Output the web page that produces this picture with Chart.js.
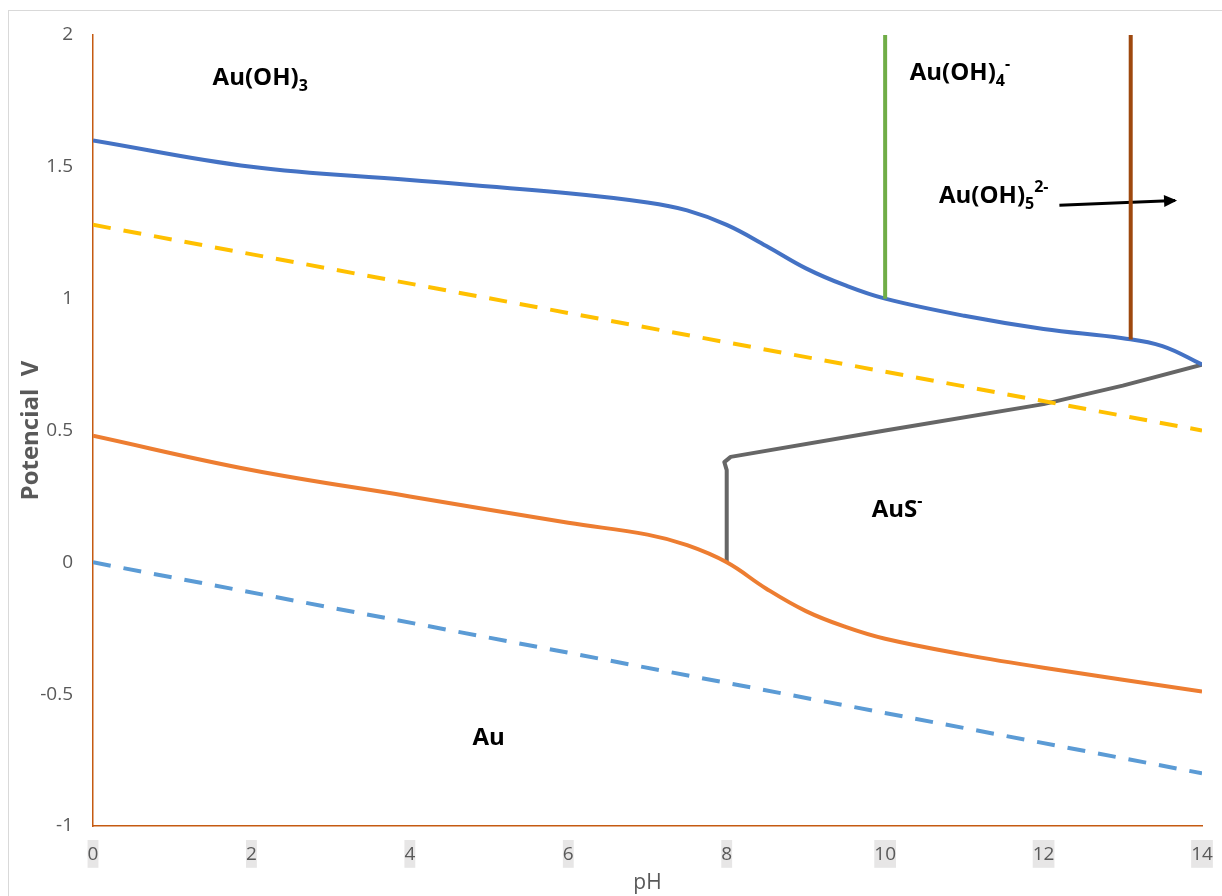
<!DOCTYPE html>
<html>
<head>
<meta charset="utf-8">
<script src="https://cdn.jsdelivr.net/npm/chart.js@4/dist/chart.umd.min.js"></script>
<style>
    html, body { margin: 0; padding: 0; background: #fff; }
    #wrap { position: relative; width: 1222px; height: 896px; overflow: hidden; }
    #frame { position: absolute; left: 8px; top: 10px; width: 1300px; height: 1000px; border: 1px solid #d9d9d9; }
    canvas { position: absolute; left: 0; top: 0; }
</style>
</head>
<body>
<div id="wrap">
    <div id="frame"></div>
    <canvas id="pourbaix" width="1222" height="896"></canvas>
</div>
<script>
// Au(OH)3 / Au boundary (upper, blue)
const upperPH = [0, 2, 4, 6, 7, 7.5, 8, 8.5, 9, 9.5, 10, 11, 12, 13, 13.5, 14];
const upperE  = [1.6, 1.5, 1.45, 1.40, 1.365, 1.335, 1.28, 1.2, 1.115, 1.05, 1.0, 0.935, 0.885, 0.85, 0.82, 0.75];

// Au / AuS- boundary (lower, orange)
const lowerPH = [0, 2, 4, 6, 7, 7.5, 8, 8.5, 9, 9.5, 10, 11, 12, 14];
const lowerE  = [0.48, 0.35, 0.25, 0.15, 0.105, 0.065, 0, -0.10, -0.185, -0.245, -0.29, -0.35, -0.40, -0.49];

// AuS- field boundary (grey)
const sulfidePH = [8, 8, 7.97, 8.05, 10, 12, 13, 14];
const sulfideE  = [0, 0.35, 0.38, 0.40, 0.50, 0.60, 0.67, 0.75];

// water stability lines (dashed)
const oxygenPH = [0, 14];
const oxygenE  = [1.28, 0.50];
const hydrogenPH = [0, 14];
const hydrogenE  = [0, -0.80];

// vertical boundaries
const hydroxo4PH = [10, 10];
const hydroxo4E  = [1.0, 2.0];
const hydroxo5PH = [13.1, 13.1];
const hydroxo5E  = [0.845, 2.0];

// arrow pointing to Au(OH)5 2- field
const arrowPH = [12.2, 13.66];
const arrowE  = [1.354, 1.372];

// region labels ('_' = subscript, '^' = superscript)
const regionNames = [
    [['Au(OH)', ''], ['3', '_']],
    [['Au(OH)', ''], ['4', '_'], ['-', '^']],
    [['Au(OH)', ''], ['5', '_'], ['2-', '^']],
    [['AuS', ''], ['-', '^']],
    [['Au', '']]
];
const regionPH = [1.51, 10.31, 10.68, 9.83, 4.79];
const regionE  = [1.81, 1.83, 1.363, 0.172, -0.693];

const xTicks = [0, 2, 4, 6, 8, 10, 12, 14];

function toPoints(xs, ys) {
    return xs.map((x, i) => ({ x: x, y: ys[i] }));
}

const FONT = '"Open Sans", "Noto Sans", sans-serif';

const labelPlugin = {
    id: 'regionLabels',
    afterDatasetsDraw(chart) {
        const ctx = chart.ctx;
        const xs = chart.scales.x, ys = chart.scales.y;
        ctx.save();
        ctx.fillStyle = '#000';
        ctx.textBaseline = 'alphabetic';
        ctx.textAlign = 'left';
        regionNames.forEach((parts, i) => {
            let px = xs.getPixelForValue(regionPH[i]);
            const py = ys.getPixelForValue(regionE[i]);
            parts.forEach(([txt, kind]) => {
                let dy = 0;
                if (kind === '') {
                    ctx.font = 'bold 24px ' + FONT;
                } else {
                    ctx.font = 'bold 16px ' + FONT;
                    dy = kind === '_' ? 6 : -11;
                }
                ctx.fillText(txt, px, py + dy);
                px += ctx.measureText(txt).width;
            });
        });

        // arrow head at the end of the arrow dataset
        const meta = chart.getDatasetMeta(chart.data.datasets.findIndex(d => d.label === 'arrow'));
        const pts = meta.data;
        const a = pts[pts.length - 2], b = pts[pts.length - 1];
        const ang = Math.atan2(b.y - a.y, b.x - a.x);
        ctx.translate(b.x, b.y);
        ctx.rotate(ang);
        ctx.beginPath();
        ctx.moveTo(2, 0);
        ctx.lineTo(-11, -6);
        ctx.lineTo(-11, 6);
        ctx.closePath();
        ctx.fill();
        ctx.restore();
    }
};

new Chart(document.getElementById('pourbaix'), {
    type: 'scatter',
    data: {
        datasets: [
            {
                label: 'O2/H2O',
                data: toPoints(oxygenPH, oxygenE),
                borderColor: '#ffc000',
                borderDash: [18, 13],
                borderWidth: 4
            },
            {
                label: 'H2O/H2',
                data: toPoints(hydrogenPH, hydrogenE),
                borderColor: '#5b9bd5',
                borderDash: [18, 13],
                borderWidth: 4
            },
            {
                label: 'Au(OH)4-',
                data: toPoints(hydroxo4PH, hydroxo4E),
                borderColor: '#70ad47',
                borderWidth: 4
            },
            {
                label: 'Au(OH)5 2-',
                data: toPoints(hydroxo5PH, hydroxo5E),
                borderColor: '#9e480e',
                borderWidth: 4
            },
            {
                label: 'Au(OH)3/Au',
                data: toPoints(upperPH, upperE),
                borderColor: '#4472c4',
                borderWidth: 4,
                tension: 0.4
            },
            {
                label: 'Au/AuS-',
                data: toPoints(lowerPH, lowerE),
                borderColor: '#ed7d31',
                borderWidth: 4,
                tension: 0.4
            },
            {
                label: 'AuS-',
                data: toPoints(sulfidePH, sulfideE),
                borderColor: '#666666',
                borderWidth: 4,
                borderJoinStyle: 'round',
                tension: 0
            },
            {
                label: 'arrow',
                data: toPoints(arrowPH, arrowE),
                borderColor: '#000000',
                borderWidth: 3
            }
        ]
    },
    options: {
        responsive: false,
        animation: false,
        showLine: true,
        elements: {
            point: { radius: 0, hoverRadius: 0 },
            line: { fill: false }
        },
        layout: { padding: { left: 0, top: 35, right: 20, bottom: 0 } },
        plugins: {
            legend: { display: false },
            tooltip: { enabled: false }
        },
        scales: {
            x: {
                type: 'linear',
                min: 0,
                max: 14,
                grid: { display: false, drawTicks: false },
                border: { display: true, color: '#c55a11', width: 1.5 },
                afterFit: (scale) => {
                    scale.height = 70;
                    scale.paddingLeft = 0;
                    scale.paddingRight = 10;
                },
                afterBuildTicks: (scale) => { scale.ticks = xTicks.map(v => ({ value: v })); },
                ticks: {
                    color: '#595959',
                    font: { family: FONT, size: 19 },
                    padding: 17,
                    showLabelBackdrop: true,
                    backdropColor: '#e7e6e6',
                    backdropPadding: { top: 3, bottom: 2, left: 0, right: 0 }
                },
                title: {
                    display: true,
                    text: 'pH',
                    color: '#595959',
                    font: { family: FONT, size: 21 },
                    padding: { top: 0, bottom: 0 }
                }
            },
            y: {
                type: 'linear',
                min: -1,
                max: 2,
                grid: { display: false, drawTicks: false },
                border: { display: true, color: '#c55a11', width: 1.5 },
                afterFit: (scale) => { scale.width = 93; },
                ticks: {
                    stepSize: 0.5,
                    color: '#595959',
                    font: { family: FONT, size: 19 },
                    padding: 20,
                    callback: (v) => String(Math.round(v * 10) / 10)
                },
                title: {
                    display: true,
                    text: 'Potencial  V',
                    color: '#595959',
                    font: { family: FONT, size: 24, weight: 'bold' },
                    padding: { top: 17 }
                }
            }
        }
    },
    plugins: [labelPlugin]
});
</script>
</body>
</html>
